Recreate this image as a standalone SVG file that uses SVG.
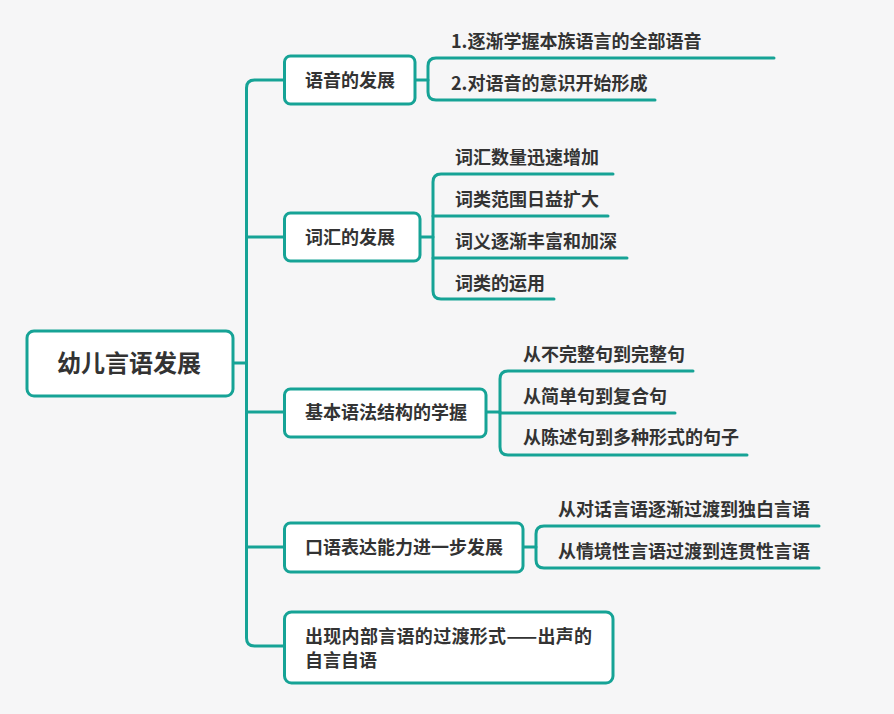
<svg xmlns="http://www.w3.org/2000/svg" width="894" height="714" viewBox="0 0 894 714">
<style>
.bg{fill:#f6f6f7}
.box{fill:#ffffff;stroke:#16a396;stroke-width:3}
.ln{fill:none;stroke:#16a396;stroke-width:3;stroke-linecap:round;stroke-linejoin:round}
text{font-family:"Noto Sans CJK SC","Noto Sans",sans-serif;font-weight:bold;fill:#333333;font-size:18px}
.root{font-size:24px}
</style>
<rect class="bg" x="0" y="0" width="894" height="714"/>
<g id="connectors">
<path class="ln" d="M233 363 H246.5"/>
<path class="ln" d="M285 80 H254.5 Q246.5 80 246.5 88 V638 Q246.5 646 254.5 646 H285"/>
<path class="ln" d="M246.5 237 H285"/>
<path class="ln" d="M246.5 412 H285"/>
<path class="ln" d="M246.5 547 H285"/>
<path class="ln" d="M415 80 H428"/>
<path class="ln" d="M774 58 H436 Q428 58 428 66 V92 Q428 100 436 100 H655"/>
<path class="ln" d="M420 237 H433"/>
<path class="ln" d="M613 174 H441 Q433 174 433 182 V291 Q433 299 441 299 H554"/>
<path class="ln" d="M433 216 H608"/>
<path class="ln" d="M433 258 H627"/>
<path class="ln" d="M486 412 H500"/>
<path class="ln" d="M693 371 H508 Q500 371 500 379 V447 Q500 455 508 455 H747"/>
<path class="ln" d="M500 413 H675"/>
<path class="ln" d="M523 547 H536"/>
<path class="ln" d="M819 526 H544 Q536 526 536 534 V560 Q536 568 544 568 H819"/>
</g>
<g id="root">
<rect class="box" x="27" y="331" width="206" height="65" rx="7"/>
<text class="root" x="129" y="371.5" text-anchor="middle">幼儿言语发展</text>
</g>
<g id="n1">
<rect class="box" x="284.5" y="56" width="130.5" height="48" rx="6"/>
<text x="305" y="86.5">语音的发展</text>
</g>
<g id="n1a"><text x="451" y="48">1.逐渐学握本族语言的全部语音</text></g>
<g id="n1b"><text x="451" y="90">2.对语音的意识开始形成</text></g>
<g id="n2">
<rect class="box" x="284.5" y="213" width="135.5" height="48" rx="6"/>
<text x="305" y="243.5">词汇的发展</text>
</g>
<g id="n2a"><text x="455" y="164">词汇数量迅速增加</text></g>
<g id="n2b"><text x="455" y="205.5">词类范围日益扩大</text></g>
<g id="n2c"><text x="455" y="247.5">词义逐渐丰富和加深</text></g>
<g id="n2d"><text x="455" y="289.5">词类的运用</text></g>
<g id="n3">
<rect class="box" x="284.5" y="389" width="201.5" height="48" rx="6"/>
<text x="305" y="418.5">基本语法结构的学握</text>
</g>
<g id="n3a"><text x="523" y="361">从不完整句到完整句</text></g>
<g id="n3b"><text x="523" y="402.5">从简单句到复合句</text></g>
<g id="n3c"><text x="523" y="444">从陈述句到多种形式的句子</text></g>
<g id="n4">
<rect class="box" x="284.5" y="523" width="238.5" height="49" rx="6"/>
<text x="305" y="553.5">口语表达能力进一步发展</text>
</g>
<g id="n4a"><text x="558" y="515.5">从对话言语逐渐过渡到独白言语</text></g>
<g id="n4b"><text x="558" y="557.5">从情境性言语过渡到连贯性言语</text></g>
<g id="n5">
<rect class="box" x="284.5" y="612" width="328.5" height="71" rx="7"/>
<text x="305" y="642.5" textLength="287" lengthAdjust="spacing">出现内部言语的过渡形式——出声的</text>
<text x="305" y="666.5">自言自语</text>
</g>
</svg>
